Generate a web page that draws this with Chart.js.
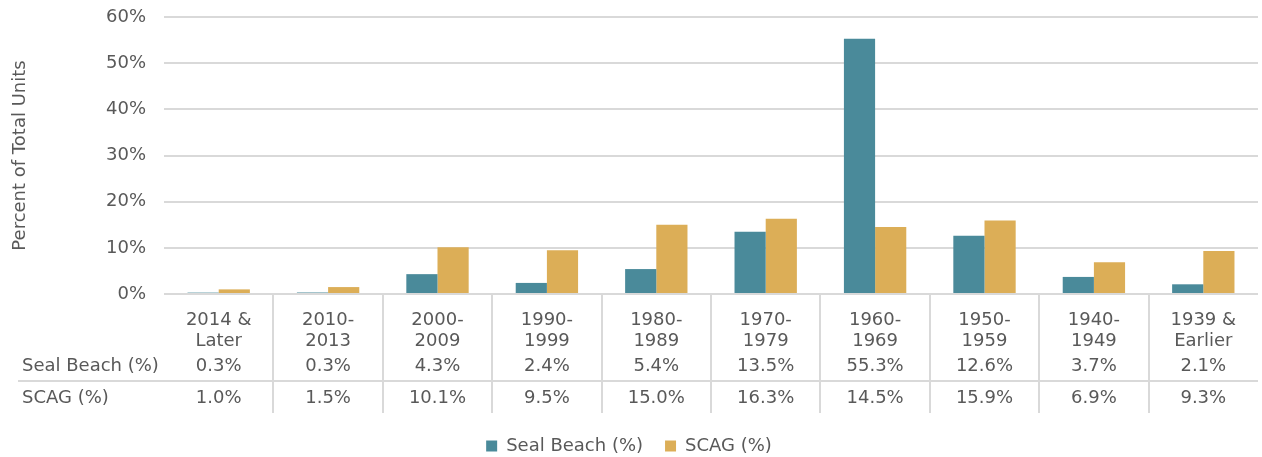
<!DOCTYPE html>
<html>
<head>
<meta charset="utf-8">
<script src="https://cdn.jsdelivr.net/npm/chart.js@4"></script>
<style>
  html, body { margin: 0; padding: 0; background: #fff; }
  #wrap { width: 1262px; height: 457px; }
</style>
</head>
<body>
<div id="wrap"><canvas id="unitsChart"></canvas></div>
<script>
const categories = [
  ['2014 &', 'Later'], ['2010-', '2013'], ['2000-', '2009'], ['1990-', '1999'], ['1980-', '1989'],
  ['1970-', '1979'], ['1960-', '1969'], ['1950-', '1959'], ['1940-', '1949'], ['1939 &', 'Earlier']
];
const sealBeach = [0.3, 0.3, 4.3, 2.4, 5.4, 13.5, 55.3, 12.6, 3.7, 2.1];
const scag = [1.0, 1.5, 10.1, 9.5, 15.0, 16.3, 14.5, 15.9, 6.9, 9.3];
const seriesNames = ['Seal Beach (%)', 'SCAG (%)'];
const yTicks = [0, 10, 20, 30, 40, 50, 60];

const textColor = '#595959';
const lineColor = '#d9d9d9';
const fontFamily = '"DejaVu Sans", sans-serif';
const PLOT_BOTTOM = 294;

// draws category labels, data table and separators below the plot
const tablePlugin = {
  id: 'dataTable',
  afterDraw(chart) {
    const ctx = chart.ctx;
    const x = chart.scales.x;
    const area = chart.chartArea;
    ctx.save();
    ctx.font = '18px ' + fontFamily;
    ctx.fillStyle = textColor;
    ctx.textBaseline = 'middle';
    ctx.textAlign = 'center';
    const rows = [sealBeach, scag];
    categories.forEach((lab, i) => {
      const cx = x.getPixelForValue(i);
      ctx.fillText(lab[0], cx, area.bottom + 26);
      ctx.fillText(lab[1], cx, area.bottom + 47);
      ctx.fillText(rows[0][i].toFixed(1) + '%', cx, area.bottom + 72);
      ctx.fillText(rows[1][i].toFixed(1) + '%', cx, area.bottom + 104);
    });
    ctx.textAlign = 'left';
    ctx.fillText(seriesNames[0], 22, area.bottom + 72);
    ctx.fillText(seriesNames[1], 22, area.bottom + 104);

    ctx.strokeStyle = lineColor;
    ctx.lineWidth = 2;
    for (let i = 0; i < categories.length - 1; i++) {
      const sx = Math.round((x.getPixelForValue(i) + x.getPixelForValue(i + 1)) / 2);
      ctx.beginPath();
      ctx.moveTo(sx, area.bottom);
      ctx.lineTo(sx, area.bottom + 119);
      ctx.stroke();
    }
    ctx.beginPath();
    ctx.moveTo(18, area.bottom + 87);
    ctx.lineTo(area.right, area.bottom + 87);
    ctx.stroke();

    // y axis title
    ctx.translate(20, (area.top + area.bottom) / 2);
    ctx.rotate(-Math.PI / 2);
    ctx.textAlign = 'center';
    ctx.font = '18px ' + fontFamily;
    ctx.fillText('Percent of Total Units', 0, 0);
    ctx.restore();
  }
};

const ctx = document.getElementById('unitsChart').getContext('2d');
const unitsChart = new Chart(ctx, {
  type: 'bar',
  data: {
    labels: categories.map(c => c.join(' ')),
    datasets: [
      { label: seriesNames[0], data: sealBeach, backgroundColor: '#4a8a9a' },
      { label: seriesNames[1], data: scag, backgroundColor: '#dcae57' }
    ]
  },
  options: {
    responsive: true,
    maintainAspectRatio: false,
    animation: false,
    layout: { padding: { top: 17, right: 4, left: 0, bottom: -8 } },
    datasets: { bar: { categoryPercentage: 0.57, barPercentage: 1.0 } },
    plugins: {
      legend: {
        position: 'bottom',
        labels: {
          boxWidth: 11, boxHeight: 11, padding: 22,
          color: textColor,
          font: { size: 18, family: fontFamily }
        }
      },
      tooltip: { enabled: false }
    },
    scales: {
      x: {
        grid: { display: false },
        border: { display: false },
        ticks: { display: false },
        afterFit(scale) {
          const leg = scale.chart.legend ? scale.chart.legend.height : 0;
          scale.height = scale.chart.height - PLOT_BOTTOM - leg + 8;
        }
      },
      y: {
        min: 0, max: 60,
        afterBuildTicks(scale) { scale.ticks = yTicks.map(v => ({ value: v })); },
        afterFit(scale) {
          scale.width = 164;
          scale.paddingTop = 0;
          scale.paddingBottom = 0;
        },
        grid: { color: lineColor, lineWidth: 2, drawTicks: false },
        border: { display: false },
        ticks: {
          padding: 18,
          color: textColor,
          font: { size: 18, family: fontFamily },
          callback: v => v + '%'
        }
      }
    }
  },
  plugins: [tablePlugin]
});
</script>
</body>
</html>
